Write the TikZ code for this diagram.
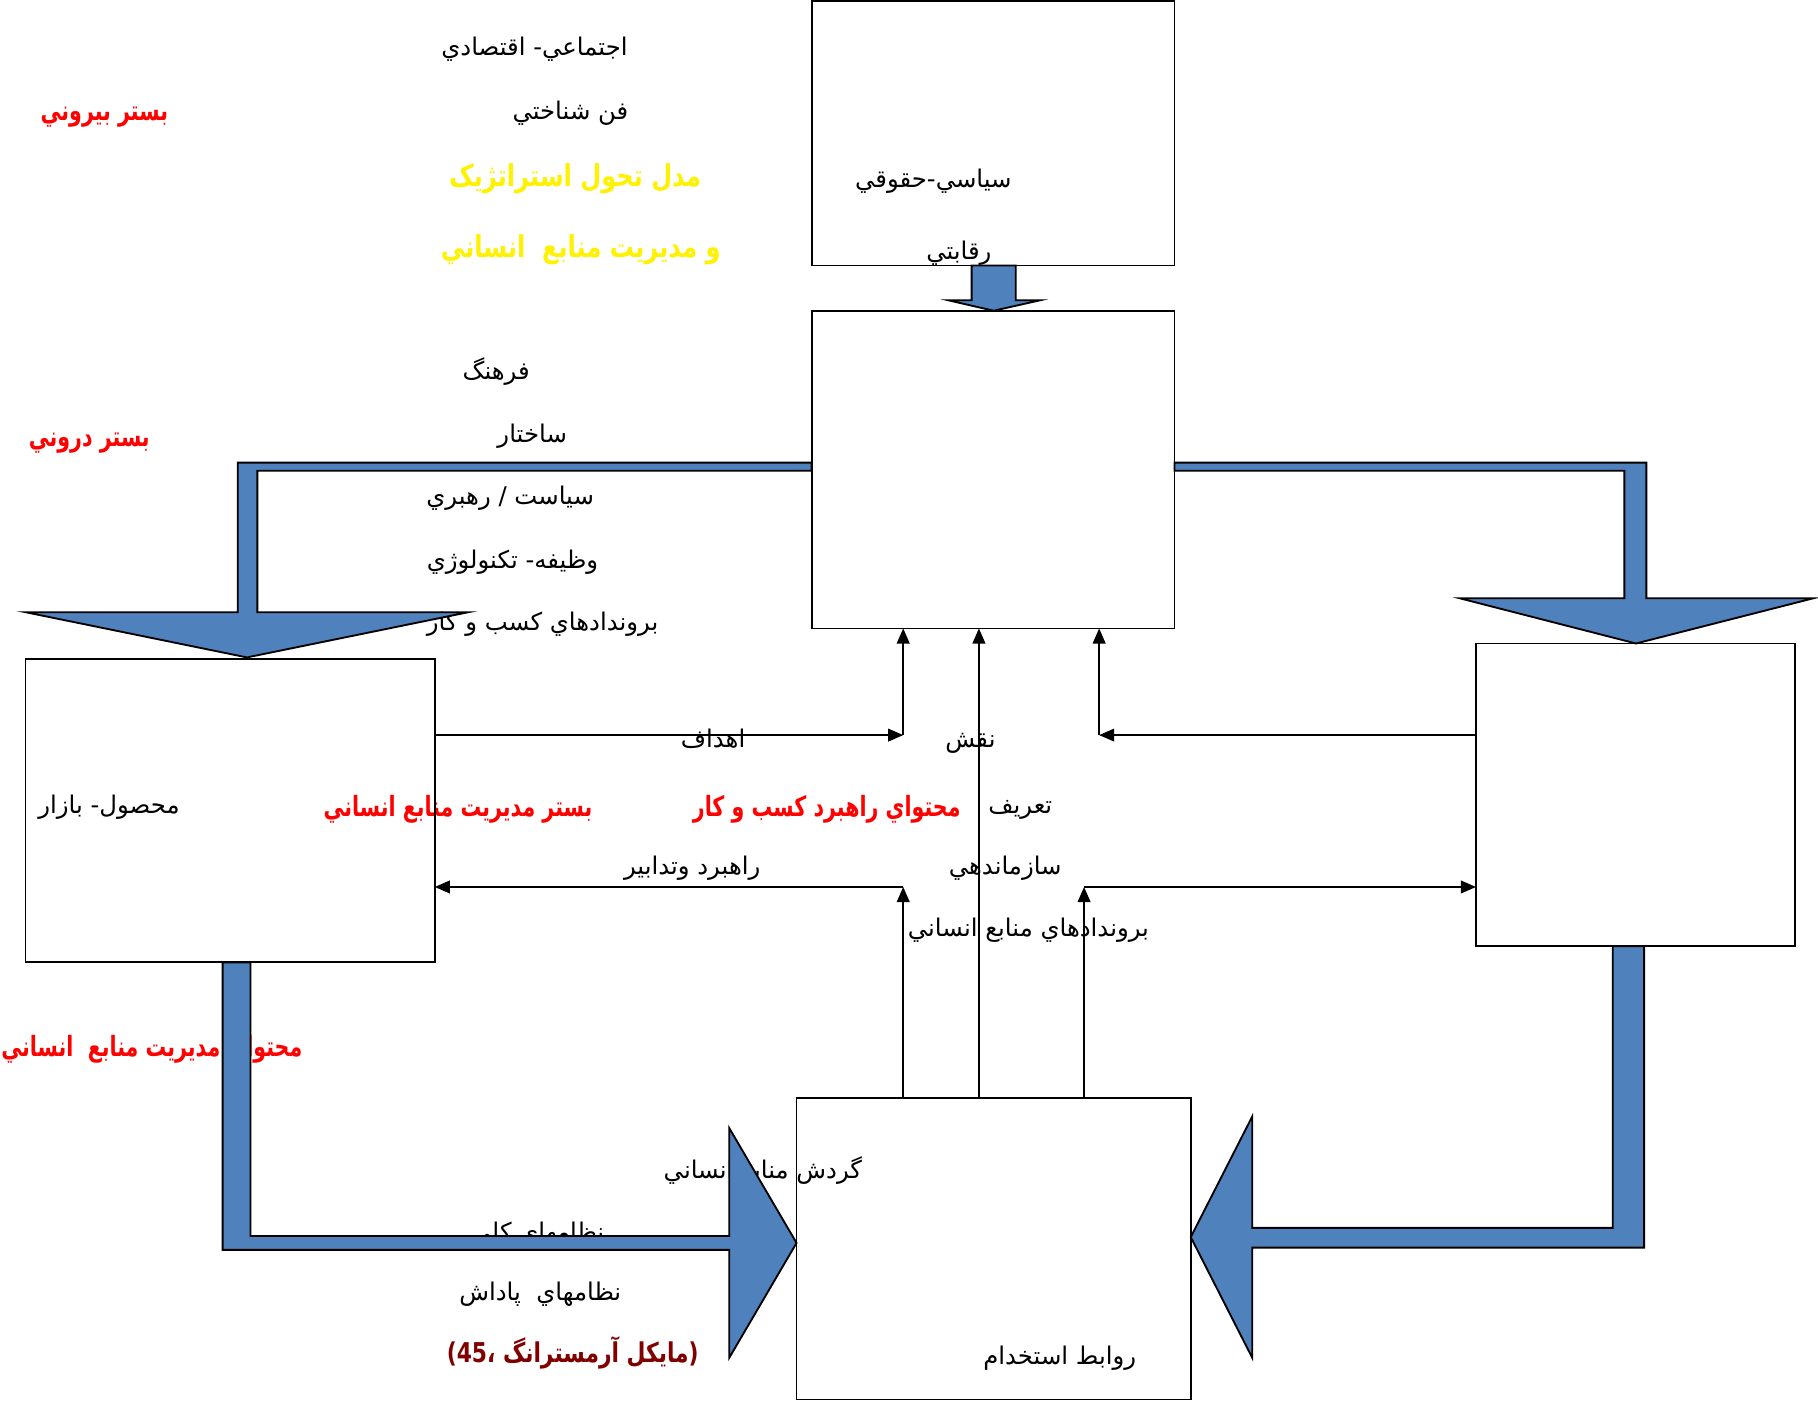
\documentclass[tikz,border=0pt]{standalone}
\usepackage{fontspec}
\newfontfamily\arfont[Script=Arabic]{DejaVu Sans}
\newfontfamily\arboldr[Script=Arabic,FakeStretch=0.74]{DejaVu Sans Bold}
\newfontfamily\arboldy[Script=Arabic,FakeStretch=0.80]{DejaVu Sans Bold}
\TeXXeTstate=1
\usetikzlibrary{arrows.meta}
\definecolor{arblue}{RGB}{79,129,189}
\definecolor{capred}{RGB}{128,0,0}
\newcommand\fa[1]{\beginR #1\endR}
\begin{document}
\begin{tikzpicture}[x=1pt,y=-1pt,
  txt/.style={anchor=base, inner sep=0pt, font=\arfont\fontsize{21}{24}\selectfont},
  rtxt/.style={anchor=base, inner sep=0pt, text=red, font=\arboldr\fontsize{24}{28}\selectfont},
  ytxt/.style={anchor=base, inner sep=0pt, text=yellow, font=\arboldy\fontsize{26}{30}\selectfont},
  ctxt/.style={anchor=base, inner sep=0pt, text=capred, font=\arboldy\fontsize{23.5}{28}\selectfont},
  box/.style={draw, line width=1.6pt, inner sep=0pt, outer sep=0pt, anchor=north west},
  conn/.style={line width=1.3pt, -{Triangle[length=13pt,width=11pt]}},
  barrow/.style={draw, line width=1.6pt, fill=arblue, line join=miter}
]
\useasboundingbox (0,0) rectangle (1568,1208);
\fill[white] (0,0) rectangle (1568,1208);

% ---------- texts ----------
\node[txt]  (t1)  at (461,48)   {\fa{اجتماعي\hbox{-} اقتصادي}};
\node[txt]  (t2)  at (492,103)  {\fa{فن شناختي}};
\node[rtxt] (t3)  at (90,104)   {\fa{بستر بيروني}};
\node[ytxt] (t4)  at (496,161)  {\fa{مدل تحول استراتژيک}};
\node[ytxt] (t5)  at (501,222)  {\fa{و مديريت منابع\ \ انساني}};
\node[txt]  (t6)  at (805,162)  {\fa{سياسي-حقوقي}};
\node[txt]  (t7)  at (827,224)  {\fa{رقابتي}};
\node[txt]  (t8)  at (428,327)  {\fa{فرهنگ}};
\node[rtxt] (t9)  at (77,385)   {\fa{بستر دروني}};
\node[txt]  (t10) at (459,382)  {\fa{ساختار}};
\node[txt]  (t11) at (440,435)  {\fa{سياست / رهبري}};
\node[txt]  (t12) at (442,490)  {\fa{وظيفه\hbox{-} تكنولوژي}};
\node[txt]  (t13) at (468,544)  {\fa{بروندادهاي كسب و كار}};
\node[txt]  (t14) at (94,702)   {\fa{محصول\hbox{-} بازار}};
\node[rtxt] (t15) at (395,704)  {\fa{بستر مديريت منابع انساني}};
\node[txt]  (t16) at (615,645)  {\fa{اهداف}};
\node[txt]  (t17) at (837,645)  {\fa{نقش}};
\node[rtxt] (t18) at (713,704)  {\fa{محتواي راهبرد كسب و كار}};
\node[txt]  (t19) at (880,702)  {\fa{تعريف}};
\node[txt]  (t20) at (597,754)  {\fa{راهبرد وتدابير}};
\node[txt]  (t21) at (867,754)  {\fa{سازماندهي}};
\node[txt]  (t22) at (887,808)  {\fa{بروندادهاي منابع انساني}};
\node[rtxt] (t23) at (131,911)  {\fa{محتواي مديريت منابع\ \ انساني}};
\node[txt]  (t24) at (658,1016) {\fa{گردش منابع انساني}};
\node[txt]  (t25) at (464,1070) {\fa{نظامهاي كلي}};
\node[txt]  (t26) at (466,1122) {\fa{نظامهاي\ \ پاداش}};
\node[ctxt] (t27) at (494,1175) {\fa{\hbox{(}مايكل آرمسترانگ ،\hbox{45}\hbox{)}}};
\node[txt]  (t28) at (914,1177) {\fa{روابط استخدام}};

% ---------- boxes ----------
\node[box, minimum width=313pt, minimum height=228pt] (ext) at (700,1) {};
\node[box, minimum width=313pt, minimum height=274pt] (mid) at (700,268) {};
\node[box, minimum width=353pt, minimum height=262pt] (lb)  at (22,568) {};
\node[box, minimum width=275pt, minimum height=261pt] (rb)  at (1273,555) {};
\node[box, minimum width=340pt, minimum height=260pt] (bb)  at (687,947) {};

% ---------- blue arrows ----------
\draw[barrow] (838,229) -- (838,259) -- (818,259) -- (857,268) -- (897,259) -- (876,259) -- (876,229) -- cycle;
\draw[barrow] (700,399) -- (205,399) -- (205,528) -- (22,528) -- (213,567) -- (404,528) -- (222,528) -- (222,406) -- (700,406) -- cycle;
\draw[barrow] (1013,399) -- (1420,399) -- (1420,516) -- (1564,516) -- (1411,555) -- (1259,516) -- (1401,516) -- (1401,406) -- (1013,406) -- cycle;
\draw[barrow] (1391,816) -- (1391,1059) -- (1080,1059) -- (1080,963) -- (1027,1067) -- (1080,1171) -- (1080,1076) -- (1418,1076) -- (1418,816) -- cycle;
\draw[barrow] (192,830) -- (192,1078) -- (629,1078) -- (629,1171) -- (687,1072) -- (629,973) -- (629,1066) -- (216,1066) -- (216,830) -- cycle;

% ---------- thin connectors ----------
\coordinate (c1) at (779,634);
\coordinate (c2) at (948,634);
\coordinate (c3) at (844.3,700);
\coordinate (c4) at (779,765);
\coordinate (c5) at (935,765);
\draw[conn] (lb.east |- c1) -- (c1);
\draw[conn] (c1) -- (c1 |- mid.south);
\draw[conn] (rb.west |- c2) -- (c2);
\draw[conn] (c2) -- (c2 |- mid.south);
\draw[conn] (c3 |- bb.north) -- (c3 |- mid.south);
\draw[conn] (c4 |- bb.north) -- (c4);
\draw[conn] (c4) -- (c4 -| lb.east);
\draw[conn] (c5 |- bb.north) -- (c5);
\draw[conn] (c5) -- (c5 -| rb.west);
\end{tikzpicture}
\end{document}
